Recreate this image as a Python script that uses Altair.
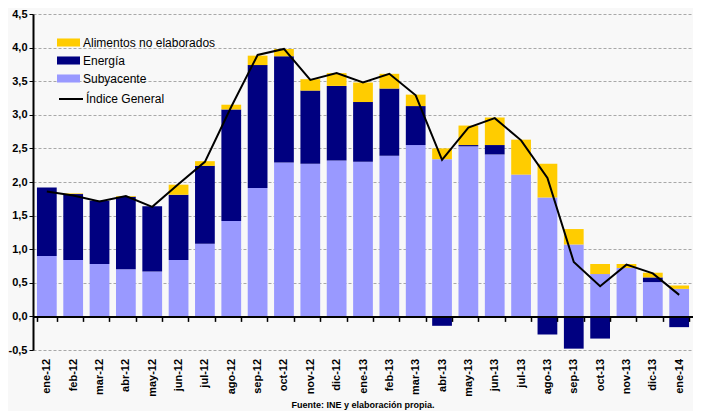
import altair as alt
import pandas as pd

months = ["ene-12", "feb-12", "mar-12", "abr-12", "may-12", "jun-12", "jul-12",
          "ago-12", "sep-12", "oct-12", "nov-12", "dic-12", "ene-13", "feb-13",
          "mar-13", "abr-13", "may-13", "jun-13", "jul-13", "ago-13", "sep-13",
          "oct-13", "nov-13", "dic-13", "ene-14"]

subyacente = [0.90, 0.84, 0.78, 0.70, 0.67, 0.84, 1.08, 1.42, 1.91, 2.29, 2.27, 2.32,
              2.30, 2.39, 2.55, 2.34, 2.53, 2.41, 2.11, 1.77, 1.07, 0.63, 0.72, 0.51, 0.41]
energia = [1.02, 0.98, 0.94, 1.08, 0.97, 0.97, 1.16, 1.66, 1.83, 1.58, 1.09, 1.11,
           0.89, 1.00, 0.58, -0.14, 0.02, 0.14, 0.00, -0.27, -0.48, -0.33, 0.00, 0.07, -0.16]
alimentos = [-0.02, 0.01, -0.02, 0.01, 0.00, 0.15, 0.07, 0.07, 0.14, 0.11, 0.17, 0.19,
             0.29, 0.22, 0.17, 0.16, 0.29, 0.41, 0.52, 0.50, 0.23, 0.15, 0.06, 0.07, 0.05]
general = [1.86, 1.80, 1.71, 1.79, 1.63, 1.97, 2.30, 3.12, 3.89, 3.98, 3.52, 3.62,
           3.48, 3.61, 3.29, 2.33, 2.81, 2.95, 2.62, 2.06, 0.81, 0.45, 0.77, 0.64, 0.32]
y_ticks = [-0.5, 0.0, 0.5, 1.0, 1.5, 2.0, 2.5, 3.0, 3.5, 4.0, 4.5]

legend_names = ["Alimentos no elaborados", "Energía", "Subyacente"]
legend_colors = ["#FFCC00", "#000080", "#9999FF"]
line_name = "Índice General"

rows = []
for i, m in enumerate(months):
    for order, (name, vals) in enumerate([("Subyacente", subyacente),
                                          ("Energía", energia),
                                          ("Alimentos no elaborados", alimentos)]):
        rows.append({"mes": m, "serie": name, "valor": vals[i], "orden": order})
bars_df = pd.DataFrame(rows)
line_df = pd.DataFrame({"mes": months, "valor": general, "serie": [line_name] * len(months)})

W, H = 660, 336
FONT = "Liberation Sans"

x_scale = alt.Scale(domain=months, paddingInner=0.25, paddingOuter=0.15)
y_scale = alt.Scale(domain=[-0.5, 4.5], nice=False, zero=False)

x_axis = alt.Axis(
    title=None, offset=-H * 0.1, domainColor="black", domainWidth=2,
    tickColor="black", tickSize=5, tickWidth=1.5, tickBand="extent",
    labelAngle=270, labelPadding=37, labelFontSize=11, labelFontWeight="bold",
    labelColor="black", labelFont=FONT, grid=False, zindex=1,
)
y_axis = alt.Axis(
    title=None, values=y_ticks,
    labelExpr="replace(replace(format(datum.value, '.1f'), '.', ','), '\u2212', '-')",
    labelOverlap=False, labelFlush=False,
    domainColor="black", domainWidth=2, tickColor="black", tickSize=4,
    labelPadding=2, labelFontSize=11, labelFontWeight="bold", labelColor="black",
    labelFont=FONT, grid=True, gridColor="#a8a8a8", gridDash=[3, 2], gridWidth=1,
)

bars = alt.Chart(bars_df).mark_bar().encode(
    x=alt.X("mes:N", sort=months, scale=x_scale, axis=x_axis),
    y=alt.Y("sum(valor):Q", stack="zero", scale=y_scale, axis=y_axis),
    fill=alt.Fill("serie:N", scale=alt.Scale(domain=legend_names, range=legend_colors),
                  legend=alt.Legend(
                      title=None, orient="none", legendX=24, legendY=17,
                      symbolType="M-1,-0.35L1,-0.35L1,0.35L-1,0.35Z", symbolSize=529,
                      symbolStrokeWidth=0, rowPadding=-4, labelOffset=3, padding=0,
                      labelFontSize=12, labelFont=FONT, labelColor="black",
                  )),
    order=alt.Order("orden:Q", sort="ascending"),
)

line = alt.Chart(line_df).mark_line(strokeWidth=2, color="black").encode(
    x=alt.X("mes:N", sort=months, scale=x_scale, axis=x_axis),
    y=alt.Y("valor:Q", scale=y_scale, axis=y_axis),
    stroke=alt.Stroke("serie:N", scale=alt.Scale(domain=[line_name], range=["black"]),
                      legend=alt.Legend(
                          title=None, orient="none", legendX=25, legendY=72,
                          symbolType="stroke", symbolSize=576, symbolStrokeWidth=2,
                          labelOffset=2, padding=0, labelFontSize=12, labelFont=FONT,
                          labelColor="black",
                      )),
)

chart = alt.layer(bars, line).properties(
    width=W, height=H,
    title=alt.TitleParams("Fuente: INE y elaboración propia.", orient="bottom",
                          anchor="middle", fontSize=9, fontWeight="bold", font=FONT,
                          color="black", offset=5),
    padding=0,
).configure(background="#f8f8f8").configure_view(stroke=None)

chart.save("out.html", embed_options={"renderer": "svg", "actions": False})
